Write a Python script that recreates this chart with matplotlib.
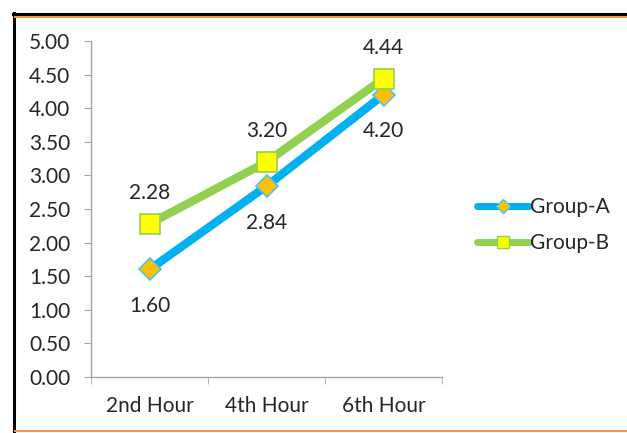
import matplotlib.pyplot as plt
from matplotlib.lines import Line2D

plt.rcParams['font.family'] = ['Lato', 'DejaVu Sans']

hours = ["2nd Hour", "4th Hour", "6th Hour"]
group_a = [1.60, 2.84, 4.20]
group_b = [2.28, 3.20, 4.44]
yticks = [0, 0.5, 1, 1.5, 2, 2.5, 3, 3.5, 4, 4.5, 5]

FS = 15
W, H = 627, 433
fig = plt.figure(figsize=(W / 100, H / 100), dpi=100)
ax = fig.add_axes([91 / W, 1 - 377 / H, (442 - 91) / W, (377 - 41) / H])

x = range(len(hours))
ax.plot(x, group_a, color="#00B0F0", lw=6, marker="D", ms=11,
        mfc="#FFC000", mec="#4BC3EE", mew=1.2, zorder=3, solid_capstyle="butt")
ax.plot(x, group_b, color="#92D050", lw=6, marker="s", ms=15,
        mfc="#FFFF00", mec="#92D050", mew=1.2, zorder=3, solid_capstyle="butt")

for i, v in enumerate(group_a):
    ax.annotate(f"{v:.2f}", (i, v), xytext=(0, -19), textcoords="offset points",
                ha="center", va="top", fontsize=FS, color="#262626")
for i, v in enumerate(group_b):
    ax.annotate(f"{v:.2f}", (i, v), xytext=(0, 15), textcoords="offset points",
                ha="center", va="bottom", fontsize=FS, color="#262626")

ax.set_xlim(-0.5, 2.5)
ax.set_ylim(0, 5)
ax.set_yticks(yticks)
ax.set_yticklabels([f"{t:.2f}" for t in yticks])
ax.set_xticks(list(x))
ax.set_xticklabels(hours)
ax.set_xticks([-0.5, 0.5, 1.5, 2.5], minor=True)
ax.tick_params(axis="x", which="major", length=0, pad=14)
ax.tick_params(axis="x", which="minor", length=5, color="#A6A6A6", direction="out")
ax.tick_params(axis="y", length=5, color="#A6A6A6", pad=10)
ax.tick_params(labelsize=FS, labelcolor="#262626")
for s in ["top", "right"]:
    ax.spines[s].set_visible(False)
for s in ["left", "bottom"]:
    ax.spines[s].set_color("#A6A6A6")
    ax.spines[s].set_linewidth(1)

handles = [
    Line2D([], [], color="#00B0F0", lw=5, marker="D", ms=7, mfc="#FFC000",
           mec="#4BC3EE", mew=1, solid_capstyle="round"),
    Line2D([], [], color="#92D050", lw=5, marker="s", ms=9, mfc="#FFFF00",
           mec="#92D050", mew=1, solid_capstyle="round"),
]
ax.legend(handles, ["Group-A", "Group-B"], loc="center left",
          bbox_to_anchor=(1.045, 0.452), frameon=False, fontsize=FS,
          handlelength=2.5, handletextpad=0.05, labelspacing=0.8,
          labelcolor="#262626")

# outer frame lines
fig.add_artist(Line2D([14 / W, 14 / W], [0, 1 - 13 / H], color="black", lw=2.2,
                      transform=fig.transFigure))
fig.add_artist(Line2D([13 / W, 1], [1 - 14 / H, 1 - 14 / H], color="black", lw=2.2,
                      transform=fig.transFigure))
fig.add_artist(Line2D([15 / W, 1], [1 - 17 / H, 1 - 17 / H], color="#F79646", lw=1.5,
                      transform=fig.transFigure))
fig.add_artist(Line2D([15 / W, 1], [1 - 431 / H, 1 - 431 / H], color="#F79646", lw=1.5,
                      transform=fig.transFigure))

fig.savefig("out.png", dpi=100)
